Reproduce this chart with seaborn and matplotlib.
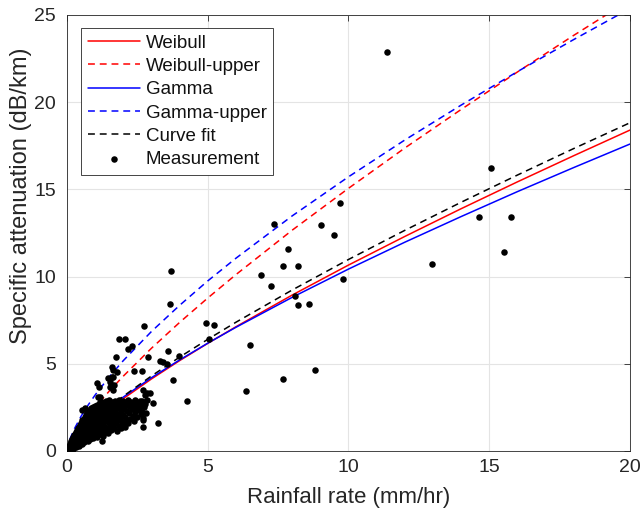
import matplotlib
matplotlib.use("Agg")
import matplotlib.pyplot as plt
import seaborn as sns

# ---------------- data ----------------
rain_grid = [0, 0.1, 0.25, 0.5, 0.75, 1, 1.5, 2, 3, 4, 5, 6, 8, 10, 12, 14, 16, 18, 20]
weibull = [0, 0.28, 0.58, 1.01, 1.38, 1.74, 2.39, 3.00, 4.13, 5.18, 6.17, 7.12, 8.94, 10.66, 12.30, 13.89, 15.43, 16.93, 18.40]
weibull_upper = [0, 0.41, 0.85, 1.46, 2.00, 2.50, 3.43, 4.29, 5.89, 7.37, 8.77, 10.11, 12.66, 15.06, 17.37, 19.58, 21.73, 23.83, 25.86]
gamma = [0, 0.32, 0.64, 1.09, 1.48, 1.83, 2.49, 3.09, 4.20, 5.22, 6.18, 7.09, 8.81, 10.43, 11.97, 13.44, 14.87, 16.25, 17.60]
gamma_upper = [0, 0.66, 1.23, 1.99, 2.63, 3.21, 4.25, 5.18, 6.85, 8.35, 9.75, 11.05, 13.48, 15.72, 17.83, 19.83, 21.75, 23.59, 25.37]
curve_fit = [0, 0.31, 0.62, 1.07, 1.46, 1.83, 2.51, 3.14, 4.30, 5.38, 6.40, 7.38, 9.23, 10.98, 12.65, 14.26, 15.82, 17.34, 18.82]

# measurements (rain rate mm/hr, attenuation dB/km)
meas_outliers = [
    (11.37, 22.88), (15.05, 16.23), (14.65, 13.43), (15.78, 13.40), (15.51, 11.41), (12.95, 10.74),
    (9.70, 14.20), (9.03, 12.94), (9.50, 12.39), (7.36, 13.03), (7.84, 11.60), (7.66, 10.63),
    (8.22, 10.63), (6.89, 10.07), (7.26, 9.48), (9.79, 9.86), (8.11, 8.89), (8.22, 8.37), (8.58, 8.43),
    (6.51, 6.06), (8.81, 4.63), (7.66, 4.15), (6.36, 3.46),
]
meas_mid = [
    (4.93, 7.36), (5.21, 7.22), (5.06, 6.42), (3.59, 5.73), (3.99, 5.45), (3.78, 4.07), (4.25, 2.87),
    (3.71, 10.32), (3.66, 8.43), (2.75, 7.15), (1.86, 6.44), (2.06, 6.44), (2.32, 6.02), (2.18, 5.87),
    (1.73, 5.41), (2.87, 5.41), (3.30, 5.14), (3.42, 5.12), (3.54, 4.97), (2.38, 4.60), (2.67, 4.59),
    (1.59, 4.80), (1.77, 4.55), (1.64, 4.64), (1.66, 3.79), (1.60, 4.25), (2.71, 3.50), (2.77, 3.21),
    (2.83, 2.92), (3.07, 2.73), (3.24, 1.59), (2.71, 1.78), (2.71, 1.39), (2.06, 1.39), (1.23, 0.59),
    (2.85, 3.34), (2.59, 2.87), (2.53, 2.54), (2.65, 2.25), (2.69, 1.87), (1.05, 3.88), (1.15, 3.69),
    (1.47, 4.17), (1.53, 3.97), (1.63, 4.26), (1.17, 3.11), (1.11, 3.11), (1.17, 2.83), (1.41, 2.45),
    (1.53, 3.67), (1.63, 3.50), (2.95, 3.31), (2.42, 2.83), (0.52, 2.35), (0.64, 2.47), (0.82, 2.35),
]
meas_cluster = [
    (0.01, 0.02), (0.02, 0.08), (0.03, 0.05), (0.04, 0.15), (0.05, 0.10), (0.06, 0.22), (0.07, 0.06),
    (0.08, 0.30), (0.09, 0.14), (0.10, 0.40), (0.11, 0.20), (0.12, 0.10), (0.13, 0.50), (0.14, 0.28),
    (0.15, 0.15), (0.16, 0.60), (0.17, 0.35), (0.18, 0.20), (0.19, 0.70), (0.20, 0.45), (0.21, 0.12),
    (0.22, 0.80), (0.23, 0.30), (0.24, 0.55),
    (0.25, 0.90), (0.26, 0.20), (0.27, 0.65), (0.28, 1.00), (0.29, 0.40), (0.30, 0.75), (0.31, 1.10),
    (0.32, 0.25), (0.33, 0.55), (0.34, 0.90), (0.35, 1.20), (0.36, 0.35), (0.37, 0.70), (0.38, 1.30),
    (0.39, 1.00), (0.40, 0.50), (0.41, 0.85), (0.42, 1.40), (0.43, 0.30), (0.44, 1.15), (0.45, 0.65),
    (0.46, 1.50), (0.47, 0.95), (0.48, 0.45), (0.49, 1.25),
    (0.50, 1.60), (0.51, 0.75), (0.52, 1.05), (0.53, 0.40), (0.54, 1.35), (0.55, 1.75), (0.56, 0.60),
    (0.57, 0.90), (0.58, 1.20), (0.59, 1.85), (0.60, 1.50), (0.61, 0.50), (0.62, 0.80), (0.63, 1.95),
    (0.65, 1.10), (0.66, 1.60), (0.67, 0.65), (0.68, 2.05), (0.69, 1.35), (0.70, 0.95), (0.71, 1.80),
    (0.72, 2.15), (0.73, 0.55), (0.74, 1.20),
    (0.75, 1.55), (0.76, 2.25), (0.77, 0.85), (0.78, 1.90), (0.79, 1.05), (0.80, 2.35), (0.81, 1.40),
    (0.82, 0.70), (0.83, 1.70), (0.84, 2.00), (0.85, 1.15), (0.86, 2.45), (0.87, 0.90), (0.88, 1.55),
    (0.89, 2.15), (0.90, 1.30), (0.91, 1.85), (0.92, 0.75), (0.93, 2.54), (0.94, 1.05), (0.95, 2.30),
    (0.96, 1.65), (0.97, 1.40), (0.98, 2.00), (0.99, 0.90), (1.00, 2.60),
    (1.01, 1.25), (1.03, 1.80), (1.04, 2.20), (1.05, 0.80), (1.06, 1.50), (1.08, 2.65), (1.09, 1.10),
    (1.10, 1.95), (1.12, 2.40), (1.13, 1.35), (1.15, 1.70), (1.16, 2.75), (1.18, 0.95), (1.19, 2.10),
    (1.20, 1.55), (1.22, 2.50), (1.23, 1.20), (1.25, 1.85), (1.26, 2.80), (1.28, 0.85), (1.29, 2.30),
    (1.30, 1.45), (1.32, 2.00), (1.33, 2.65), (1.35, 1.10), (1.36, 1.70), (1.38, 2.45), (1.39, 2.85),
    (1.40, 1.30), (1.42, 2.15), (1.43, 1.90), (1.45, 2.70), (1.46, 1.05), (1.48, 1.60), (1.49, 2.35),
    (1.50, 2.90), (1.52, 1.40), (1.53, 2.05), (1.55, 2.60), (1.56, 1.75), (1.58, 1.20), (1.60, 2.30),
    (1.61, 2.80), (1.63, 1.55), (1.64, 2.00), (1.66, 2.55), (1.68, 1.30), (1.69, 2.85), (1.71, 1.85),
    (1.72, 2.25), (1.74, 1.60), (1.76, 2.70), (1.77, 1.15), (1.79, 2.05), (1.80, 2.45), (1.82, 1.75),
    (1.84, 2.90), (1.85, 1.45), (1.87, 2.20), (1.88, 2.60), (1.90, 1.90), (1.92, 1.30), (1.93, 2.75),
    (1.95, 2.35), (1.97, 1.65), (1.98, 2.05), (2.00, 2.85),
    (2.02, 1.50), (2.04, 2.50), (2.06, 1.95), (2.08, 2.70), (2.10, 1.75), (2.13, 2.30), (2.15, 2.90),
    (2.17, 1.60), (2.20, 2.15), (2.22, 2.60), (2.25, 1.85), (2.28, 2.80), (2.30, 2.40), (2.33, 2.00),
    (2.36, 2.65), (2.38, 1.70), (2.40, 2.90), (2.43, 2.25), (2.46, 2.55), (2.49, 1.95), (2.52, 2.75),
    (2.56, 2.35), (2.60, 2.60), (2.63, 2.10), (2.67, 2.85), (2.72, 2.50), (2.78, 2.70), (2.80, 2.20),
]

x_ticks = [0, 5, 10, 15, 20]
y_ticks = [0, 5, 10, 15, 20, 25]

# ---------------- style ----------------
sns.set_style("white")
plt.rcParams["font.family"] = ["Liberation Sans", "DejaVu Sans"]
TXT = "#262626"

fig = plt.figure(figsize=(6.41, 5.13), dpi=100)
ax = fig.add_axes([0.1045, 0.1209, 0.8783, 0.8499])

LW = 1.1
DASH = (0, (4.5, 3.2))
sns.lineplot(x=rain_grid, y=weibull, color="#ff0000", lw=LW, label="Weibull", ax=ax)
sns.lineplot(x=rain_grid, y=weibull_upper, color="#ff0000", lw=LW, linestyle=DASH, label="Weibull-upper", ax=ax)
sns.lineplot(x=rain_grid, y=gamma, color="#0000ff", lw=LW, label="Gamma", ax=ax)
sns.lineplot(x=rain_grid, y=gamma_upper, color="#0000ff", lw=LW, linestyle=DASH, label="Gamma-upper", ax=ax)
sns.lineplot(x=rain_grid, y=curve_fit, color="#000000", lw=LW, linestyle=DASH, label="Curve fit", ax=ax)

all_meas = meas_cluster + meas_mid + meas_outliers
mx = [p[0] for p in all_meas]
my = [p[1] for p in all_meas]
sns.scatterplot(x=mx, y=my, color="black", s=22, linewidth=0, label="Measurement", ax=ax, zorder=3)

ax.set_xlim(0, 20)
ax.set_ylim(0, 25)
ax.set_xticks(x_ticks)
ax.set_yticks(y_ticks)
ax.grid(True, color="#e4e4e4", lw=0.8)
ax.set_axisbelow(True)
for s in ax.spines.values():
    s.set_color(TXT)
    s.set_linewidth(0.6)
    s.set_visible(True)

ax.tick_params(axis="both", direction="in", length=4, width=0.6, color=TXT,
               labelcolor=TXT, labelsize=14, top=True, right=True)
ax.tick_params(axis="x", pad=6)
ax.tick_params(axis="y", pad=8)

ax.set_xlabel("Rainfall rate (mm/hr)", fontsize=16, color=TXT)
ax.set_ylabel("Specific attenuation (dB/km)", fontsize=17, color=TXT)
ax.xaxis.set_label_coords(0.5, -0.082)
ax.xaxis.label.set_va("top")
ax.yaxis.set_label_coords(-0.062, 0.585)

leg = ax.legend(loc="upper left", bbox_to_anchor=(0.0249, 0.970), borderaxespad=0,
                fontsize=13.5, frameon=True, fancybox=False, edgecolor=TXT, framealpha=1,
                handlelength=2.8, handletextpad=0.3, labelspacing=0.33, borderpad=0.35,
                scatterpoints=1)
leg.get_frame().set_linewidth(0.6)
for t in leg.get_texts():
    t.set_color("#111111")

fig.savefig("out.png", dpi=100)
